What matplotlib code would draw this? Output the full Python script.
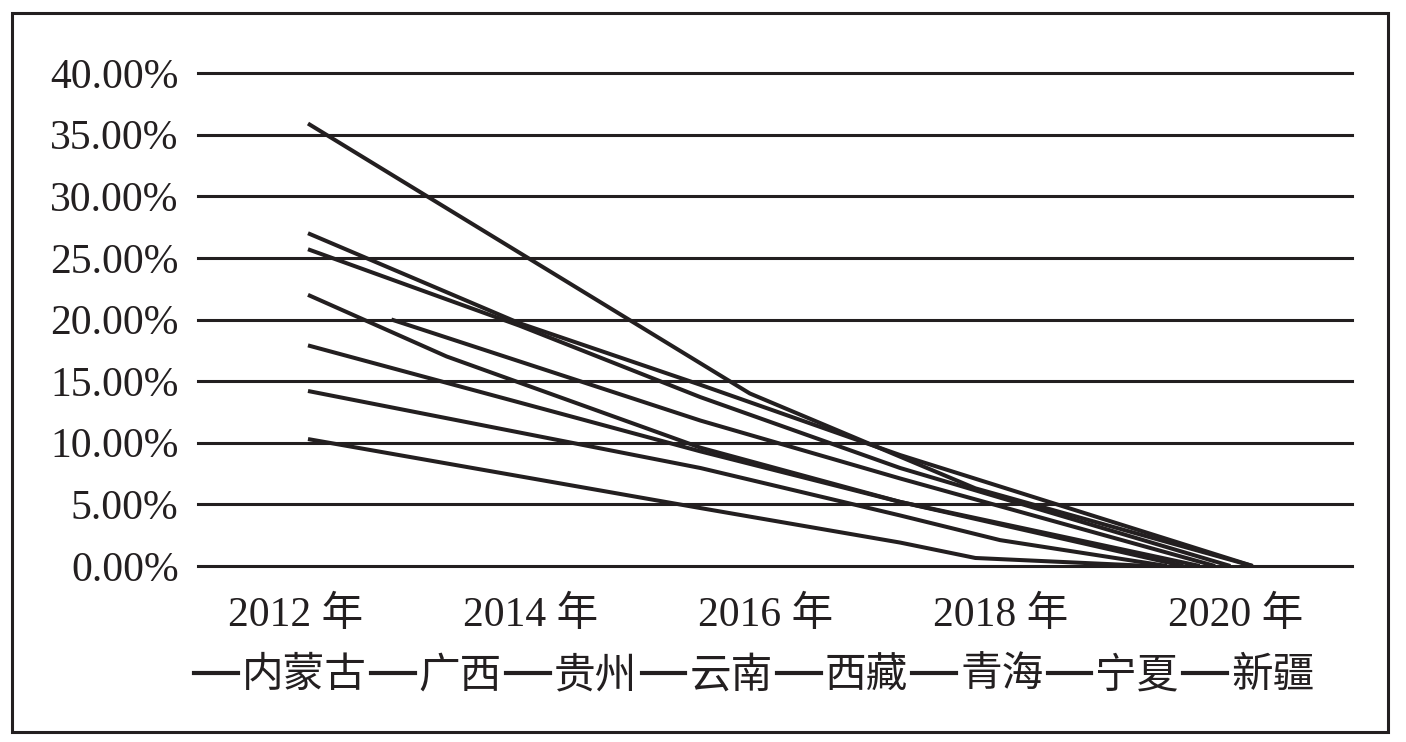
import matplotlib
matplotlib.use("Agg")
import matplotlib.pyplot as plt
import matplotlib.ticker as ticker
import matplotlib.transforms as mtransforms
from matplotlib.lines import Line2D
from matplotlib.patches import Rectangle

plt.rcParams["font.family"] = ["Liberation Serif", "Noto Sans CJK SC"]

# poverty rate (%) per province, x in (fractional) years
provinces = ["内蒙古", "广西", "贵州", "云南", "西藏", "青海", "宁夏", "新疆"]

x_neimenggu = [2012.00, 2015.34, 2017.04, 2017.68, 2019.17]
y_neimenggu = [10.3, 4.7, 1.9, 0.65, 0.0]

x_guangxi = [2012.00, 2015.34, 2017.04, 2019.45]
y_guangxi = [17.9, 9.3, 5.2, 0.0]

x_guizhou = [2012.00, 2013.80, 2015.34, 2017.04, 2020.04]
y_guizhou = [27.0, 19.7, 14.7, 9.0, 0.0]

x_yunnan = [2012.00, 2013.18, 2015.34, 2017.04, 2019.59]
y_yunnan = [22.0, 17.0, 9.6, 5.2, 0.0]

x_xizang = [2012.00, 2015.76, 2017.68, 2020.04]
y_xizang = [35.9, 14.0, 6.3, 0.0]

x_qinghai = [2012.71, 2015.34, 2017.04, 2019.72]
y_qinghai = [20.0, 11.8, 7.1, 0.0]

x_ningxia = [2012.00, 2015.34, 2017.04, 2017.89, 2019.31]
y_ningxia = [14.2, 7.95, 4.1, 2.1, 0.0]

x_xinjiang = [2012.00, 2013.80, 2015.34, 2017.04, 2019.85]
y_xinjiang = [25.7, 19.5, 13.7, 7.95, 0.0]

year_ticks = [2012, 2014, 2016, 2018, 2020]
year_labels = ["2012 年", "2014 年", "2016 年", "2018 年", "2020 年"]
y_ticks = [0, 5, 10, 15, 20, 25, 30, 35, 40]

series = [
    (x_neimenggu, y_neimenggu),
    (x_guangxi, y_guangxi),
    (x_guizhou, y_guizhou),
    (x_yunnan, y_yunnan),
    (x_xizang, y_xizang),
    (x_qinghai, y_qinghai),
    (x_ningxia, y_ningxia),
    (x_xinjiang, y_xinjiang),
]

ink = "#231f20"

fig = plt.figure(figsize=(14.06, 7.42), dpi=100)
ax = fig.add_axes([198 / 1406, 1 - 566 / 742, (1352 - 198) / 1406, (566 - 73) / 742])

for (xs, ys), name in zip(series, provinces):
    ax.plot(xs, ys, color=ink, lw=2.9, label=name, solid_capstyle="butt", zorder=3)

ax.set_xlim(2011.064, 2020.885)
ax.set_ylim(0, 40)

ax.set_yticks(y_ticks)
ax.yaxis.set_major_formatter(ticker.FuncFormatter(lambda v, p: f"{v:.2f}%"))
ax.grid(axis="y", color=ink, lw=2.2, zorder=1)
ax.grid(axis="x", visible=False)
for g in ax.get_ygridlines():
    g.set_clip_on(False)

ax.set_xticks(year_ticks)
ax.set_xticklabels(year_labels)
ax.tick_params(axis="both", length=0, labelsize=30, colors=ink)
ax.tick_params(axis="x", pad=22)
ax.tick_params(axis="y", pad=14)
shift = mtransforms.ScaledTranslation(-12 / 100, 0, fig.dpi_scale_trans)
for lab in ax.get_xticklabels():
    lab.set_transform(lab.get_transform() + shift)

for s in ax.spines.values():
    s.set_visible(False)

handles = [Line2D([], [], color=ink, lw=3) for _ in provinces]
fig.legend(handles, provinces, loc="center", bbox_to_anchor=(754 / 1406, 1 - 677 / 742),
           ncol=8, frameon=False, fontsize=30, handlelength=1.05, handletextpad=0.1,
           columnspacing=0.1, labelcolor=ink)

fig.patches.append(Rectangle((12 / 1406, 1 - 732 / 742), (1388 - 12) / 1406, (732 - 13) / 742,
                             transform=fig.transFigure, fill=False, ec=ink, lw=2.2))

fig.savefig("out.png", dpi=100)
